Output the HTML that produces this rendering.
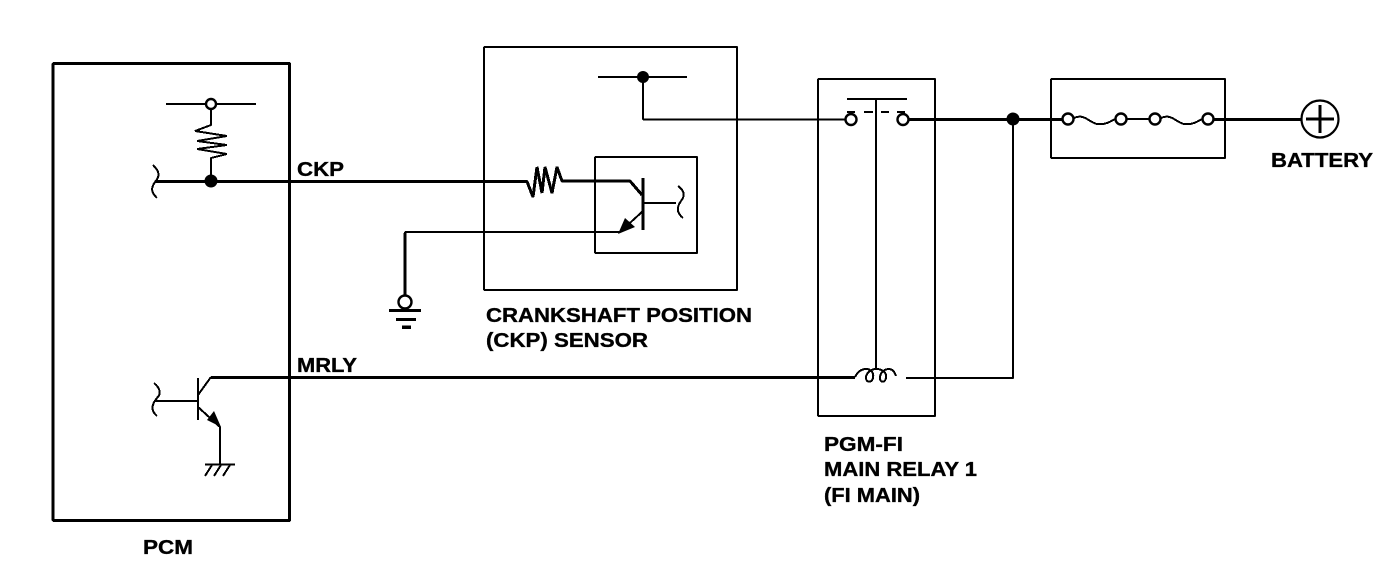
<!DOCTYPE html>
<html><head><meta charset="utf-8"><style>
html,body{margin:0;padding:0;background:#fff;width:1392px;height:572px;overflow:hidden}
svg{display:block}
text{font-family:"Liberation Sans",sans-serif;font-weight:bold;font-size:20px;fill:#000;stroke:#000;stroke-width:.35}
.b{fill:none;stroke:#000;stroke-width:3;stroke-linejoin:bevel;shape-rendering:crispEdges}
.t{fill:none;stroke:#000;stroke-width:2;stroke-linejoin:bevel;shape-rendering:crispEdges}
.o{fill:#fff;stroke:#000;stroke-width:2.4}
</style></head><body>
<svg width="1392" height="572" viewBox="0 0 1392 572" xmlns="http://www.w3.org/2000/svg">
<rect class="b" x="53" y="63.500" width="236.500" height="457"/>
<rect class="t" x="484" y="47" width="253" height="243"/>
<rect class="t" x="595" y="157" width="102" height="96"/>
<rect class="t" x="818" y="79" width="117" height="337"/>
<rect class="t" x="1051" y="79" width="174" height="79"/>

<!-- PCM pull-up -->
<path class="t" d="M166 104H256M211 109V125L195 131L227 136L197 141L227 145L197 149L227 154L211 158V181"/>
<circle class="o" cx="211" cy="104" r="5"/>
<circle cx="211" cy="181" r="6.500"/>
<path class="t" d="M153 165C160 172 160 176 155 182C150 189 152 193 157 198"/>
<!-- CKP line -->
<path class="b" d="M155 181.500H527L533 197L537 167L542 193L545 167L552 193L557 167L562 181H630L642 195"/>
<path class="b" d="M643 178V230"/>
<path class="t" d="M643 203H676M678 186C685 191 685 196 681 201C676 208 677 213 683 218"/>
<path class="t" d="M643 211L620 232H405V295"/>
<path d="M618 234L625 218L635 227Z"/>
<path class="b" d="M405 233V296"/>
<circle class="o" cx="405" cy="302" r="6.500"/>
<path class="b" d="M389 310.500H421M396 319.500H416"/>
<path d="M402 325.500h9v3.500h-9z"/>
<!-- sensor supply -->
<path class="t" d="M598 77H687M643 77V119.500H845"/>
<circle cx="643" cy="77" r="6"/>

<!-- MRLY transistor -->
<path class="b" d="M211 377.500H855"/>
<path class="t" d="M198 378V420M155 401H198M198 395L211 377M198 407L220 427V464M205 464.500H235"/>
<path class="t" d="M154 383C161 389 161 394 157 398C151 405 151 411 157 416"/>
<path d="M221 427L207 420L214 411Z"/>
<path class="t" d="M212 465L205 476M221 465L214 476M230 465L223 476"/>

<!-- relay -->
<path class="t" d="M847 99H907M876 99V368"/>
<path class="t" d="M847 112H855M864 112H873M881 112H889M897 112H905"/>
<circle class="o" cx="851" cy="119.500" r="5.500"/>
<circle class="o" cx="903" cy="119.500" r="5.500"/>
<path class="b" d="M909 119.500H1062"/>
<circle cx="1013" cy="119" r="6.500"/>
<path class="t" d="M1013 119V378H906"/>
<path class="t" d="M855 377C858 371 862 369 866 369C872 369 874 374 873 378C872 383 866 383 866 378C866 372 872 369 876 369C884 369 887 374 886 378C885 383 880 383 880 378C880 372 885 369 889 369C893 369 895 373 896 376"/>

<!-- fuses -->
<path class="t" d="M1074 118C1084 113 1090 123 1097 124C1105 125 1110 122 1115 119M1127 119H1149M1161 118C1171 113 1177 123 1184 124C1192 125 1197 122 1202 119"/>
<circle class="o" cx="1068" cy="119" r="5.500"/>
<circle class="o" cx="1121" cy="119" r="5.500"/>
<circle class="o" cx="1155" cy="119" r="5.500"/>
<circle class="o" cx="1208" cy="119" r="5.500"/>
<path class="b" d="M1214 119.500H1301"/>
<circle cx="1320" cy="119" r="18.500" fill="#fff" stroke="#000" stroke-width="2.2"/>
<path d="M1318.500 105h3v28h-3zM1306 117.500h28v3h-28z"/>

<!-- labels -->
<text x="297" y="176" textLength="47" lengthAdjust="spacingAndGlyphs">CKP</text>
<text x="297" y="372" textLength="60" lengthAdjust="spacingAndGlyphs">MRLY</text>
<text x="486" y="322" textLength="266" lengthAdjust="spacingAndGlyphs">CRANKSHAFT POSITION</text>
<text x="486" y="347" textLength="162" lengthAdjust="spacingAndGlyphs">(CKP) SENSOR</text>
<text x="824" y="451" textLength="79" lengthAdjust="spacingAndGlyphs">PGM-FI</text>
<text x="824" y="476" textLength="153" lengthAdjust="spacingAndGlyphs">MAIN RELAY 1</text>
<text x="824" y="502" textLength="96" lengthAdjust="spacingAndGlyphs">(FI MAIN)</text>
<text x="143" y="554" textLength="50" lengthAdjust="spacingAndGlyphs">PCM</text>
<text x="1271" y="167" textLength="102" lengthAdjust="spacingAndGlyphs">BATTERY</text>
</svg>
</body></html>
